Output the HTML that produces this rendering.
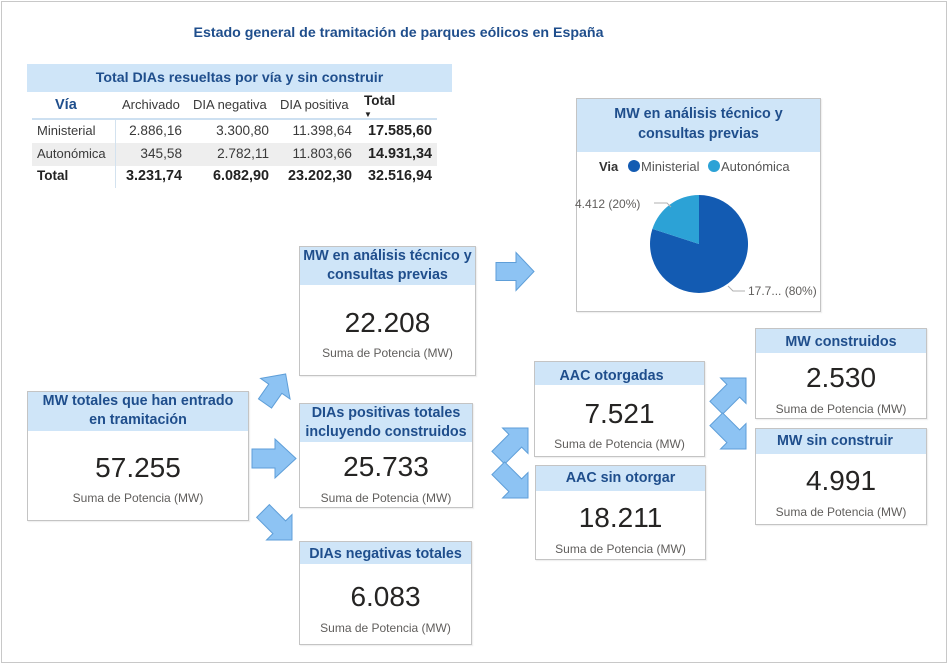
<!DOCTYPE html>
<html><head><meta charset="utf-8">
<style>
*{margin:0;padding:0;box-sizing:border-box}
body{width:949px;height:666px;background:#fff;position:relative;overflow:hidden;font-family:"Liberation Sans",sans-serif}
.a{position:absolute;white-space:nowrap}
.frame{position:absolute;left:1px;top:1px;width:946px;height:662px;border:1px solid #c8c8c8}
.card{position:absolute;border:1px solid #c4c4c4;background:#fff;box-shadow:1px 1px 1px rgba(0,0,0,0.08)}
.hd{position:absolute;left:0;top:0;right:0;background:#cfe5f8}
.ht{position:absolute;left:-10px;right:-10px;text-align:center;font-weight:bold;font-size:14.3px;color:#1f4e8c;line-height:19px;white-space:nowrap}
.num{position:absolute;left:0;right:0;text-align:center;font-size:28px;color:#252423;line-height:32px}
.sub{position:absolute;left:0;right:0;text-align:center;font-size:12px;color:#605e5c;line-height:14px}
.t{position:absolute;font-size:13px;color:#3a3a3a;line-height:16px;white-space:nowrap}
.n{font-size:13.6px}
.r{text-align:right}
.b{font-weight:bold;color:#222;font-size:14.4px}
</style></head><body>
<div class="frame"></div>

<div class="a" style="left:0;width:797px;top:24px;text-align:center;font-weight:bold;font-size:14.2px;color:#1f4e8c;line-height:18px">Estado general de tramitación de parques eólicos en España</div>

<!-- Table -->
<div class="a" style="left:27px;top:64px;width:425px;height:28px;background:#cfe5f8"></div>
<div class="a" style="left:27px;width:425px;top:69px;text-align:center;font-weight:bold;font-size:14.2px;color:#1f4e8c;line-height:18px">Total DIAs resueltas por vía y sin construir</div>
<div class="a" style="left:32px;top:118px;width:405px;height:2px;background:#cde0f1"></div>
<div class="a" style="left:32px;top:143px;width:405px;height:23px;background:#eeeeee"></div>
<div class="a" style="left:115px;top:120px;width:1px;height:68px;background:#d3e2ef"></div>

<div class="t" style="left:55px;top:97px;font-weight:bold;color:#1f4e8c;font-size:14.5px">Vía</div>
<div class="t" style="left:122px;top:97px">Archivado</div>
<div class="t" style="left:193px;top:97px">DIA negativa</div>
<div class="t" style="left:280px;top:97px">DIA positiva</div>
<div class="t" style="left:364px;top:93px;font-weight:bold;color:#222;font-size:13.5px">Total</div>
<div class="t" style="left:364px;top:107px;font-size:8px;color:#222">▼</div>

<div class="t" style="left:37px;top:123px">Ministerial</div>
<div class="t r n" style="left:100px;width:82px;top:123px">2.886,16</div>
<div class="t r n" style="left:187px;width:82px;top:123px">3.300,80</div>
<div class="t r n" style="left:270px;width:82px;top:123px">11.398,64</div>
<div class="t r b" style="left:340px;width:92px;top:123px">17.585,60</div>

<div class="t" style="left:37px;top:146px">Autonómica</div>
<div class="t r n" style="left:100px;width:82px;top:146px">345,58</div>
<div class="t r n" style="left:187px;width:82px;top:146px">2.782,11</div>
<div class="t r n" style="left:270px;width:82px;top:146px">11.803,66</div>
<div class="t r b" style="left:340px;width:92px;top:146px">14.931,34</div>

<div class="t" style="left:37px;top:168px;font-weight:bold;color:#222;font-size:13.5px">Total</div>
<div class="t r b" style="left:90px;width:92px;top:168px">3.231,74</div>
<div class="t r b" style="left:177px;width:92px;top:168px">6.082,90</div>
<div class="t r b" style="left:260px;width:92px;top:168px">23.202,30</div>
<div class="t r b" style="left:340px;width:92px;top:168px">32.516,94</div>

<!-- Pie card -->
<div class="card" style="left:576px;top:98px;width:245px;height:214px">
  <div class="hd" style="height:53px"></div>
  <div class="ht" style="top:6px">MW en análisis técnico y</div>
  <div class="ht" style="top:26px">consultas previas</div>
</div>

<svg class="a" style="left:0;top:0" width="949" height="666" viewBox="0 0 949 666">
  <text x="599" y="171" font-family="Liberation Sans" font-size="13" font-weight="bold" fill="#333">Via</text>
  <circle cx="634" cy="166" r="6" fill="#135bb2"/>
  <text x="641" y="171" font-family="Liberation Sans" font-size="13" fill="#555">Ministerial</text>
  <circle cx="714" cy="166" r="6" fill="#2ca2d6"/>
  <text x="721" y="171" font-family="Liberation Sans" font-size="13" fill="#555">Autonómica</text>
  <path d="M699,244 L699,195 A49,49 0 1,1 652.4,228.9 Z" fill="#135bb2"/>
  <path d="M699,244 L699,195 A49,49 0 0,0 652.4,228.9 Z" fill="#2ca2d6"/>
  <polyline points="654,203 667,203 671,207" fill="none" stroke="#b0b0b0" stroke-width="1"/>
  <text x="575" y="208" font-family="Liberation Sans" font-size="12" fill="#605e5c">4.412 (20%)</text>
  <polyline points="728,286 733,291 745,291" fill="none" stroke="#b0b0b0" stroke-width="1"/>
  <text x="748" y="295" font-family="Liberation Sans" font-size="12" fill="#605e5c">17.7... (80%)</text>

  <g fill="#8dc3f3" stroke="#5e9ed8" stroke-width="1">
    <polygon transform="translate(496,271.5)" points="0,-9 20,-9 20,-19 38,0 20,19 20,9 0,9"/>
    <polygon transform="translate(265,403.5) rotate(-55)" points="0,-8 18,-8 18,-18 36,0 18,18 18,8 0,8"/>
    <polygon transform="translate(252,458.5)" points="0,-9.5 23,-9.5 23,-19.5 44,0 23,19.5 23,9.5 0,9.5"/>
    <polygon transform="translate(263,511) rotate(45)" points="0,-9 23,-9 23,-18 41,0 23,18 23,9 0,9"/>
    <polygon transform="translate(498.3,457.7) rotate(-45)" points="0,-9 24,-9 24,-18 42,0 24,18 24,9 0,9"/>
    <polygon transform="translate(498.3,468.3) rotate(45)" points="0,-9 24,-9 24,-18 42,0 24,18 24,9 0,9"/>
    <polygon transform="translate(716.3,407.7) rotate(-45)" points="0,-9 24,-9 24,-18 42,0 24,18 24,9 0,9"/>
    <polygon transform="translate(716.3,419.3) rotate(45)" points="0,-9 24,-9 24,-18 42,0 24,18 24,9 0,9"/>
  </g>
</svg>

<div class="card" style="left:299px;top:246px;width:177px;height:130px">
  <div class="hd" style="height:38px"></div>
  <div class="ht" style="top:0px">MW en análisis técnico y</div>
  <div class="ht" style="top:19px">consultas previas</div>
  <div class="num" style="top:60px">22.208</div>
  <div class="sub" style="top:99px">Suma de Potencia (MW)</div>
</div>

<div class="card" style="left:27px;top:391px;width:222px;height:130px">
  <div class="hd" style="height:39px"></div>
  <div class="ht" style="top:0px">MW totales que han entrado</div>
  <div class="ht" style="top:19px">en tramitación</div>
  <div class="num" style="top:60px">57.255</div>
  <div class="sub" style="top:99px">Suma de Potencia (MW)</div>
</div>

<div class="card" style="left:299px;top:403px;width:174px;height:105px">
  <div class="hd" style="height:38px"></div>
  <div class="ht" style="top:0px">DIAs positivas totales</div>
  <div class="ht" style="top:19px">incluyendo construidos</div>
  <div class="num" style="top:47px">25.733</div>
  <div class="sub" style="top:87px">Suma de Potencia (MW)</div>
</div>

<div class="card" style="left:299px;top:541px;width:173px;height:104px">
  <div class="hd" style="height:22px"></div>
  <div class="ht" style="top:3px">DIAs negativas totales</div>
  <div class="num" style="top:39px">6.083</div>
  <div class="sub" style="top:79px">Suma de Potencia (MW)</div>
</div>

<div class="card" style="left:534px;top:361px;width:171px;height:96px">
  <div class="hd" style="height:23px"></div>
  <div class="ht" style="top:5px;right:6px">AAC otorgadas</div>
  <div class="num" style="top:36px">7.521</div>
  <div class="sub" style="top:75px">Suma de Potencia (MW)</div>
</div>

<div class="card" style="left:535px;top:465px;width:171px;height:95px">
  <div class="hd" style="height:25px"></div>
  <div class="ht" style="top:3px">AAC sin otorgar</div>
  <div class="num" style="top:36px">18.211</div>
  <div class="sub" style="top:76px">Suma de Potencia (MW)</div>
</div>

<div class="card" style="left:755px;top:328px;width:172px;height:91px">
  <div class="hd" style="height:24px"></div>
  <div class="ht" style="top:4px">MW construidos</div>
  <div class="num" style="top:33px">2.530</div>
  <div class="sub" style="top:73px">Suma de Potencia (MW)</div>
</div>

<div class="card" style="left:755px;top:428px;width:172px;height:97px">
  <div class="hd" style="height:25px"></div>
  <div class="ht" style="top:3px;right:2px">MW sin construir</div>
  <div class="num" style="top:36px">4.991</div>
  <div class="sub" style="top:76px">Suma de Potencia (MW)</div>
</div>

</body></html>
